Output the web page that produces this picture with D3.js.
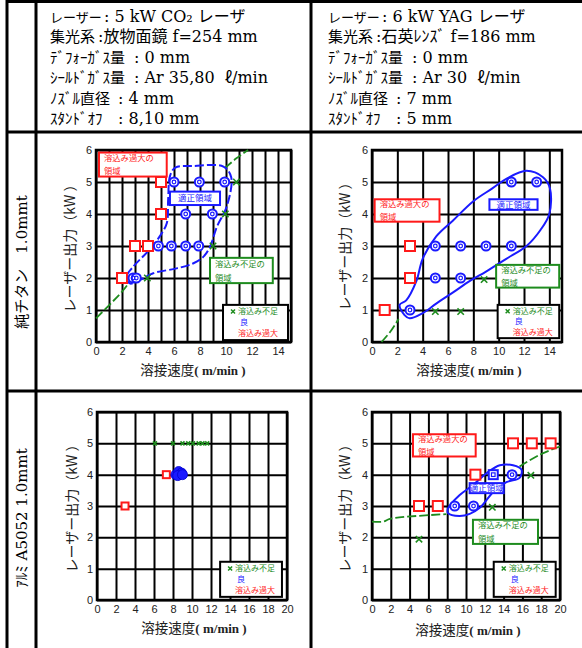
<!DOCTYPE html>
<html>
<head>
<meta charset="utf-8">
<script src="https://cdn.jsdelivr.net/npm/d3@7"></script>
<style>
  body { margin: 0; background: #fff; }
  text { font-family: "DejaVu Serif", "Noto Sans CJK JP", serif; white-space: pre; }
</style>
</head>
<body>
<div id="viz"></div>
<script>
const red = '#ff1a1a';
const blue = '#1a1aff';
const green = '#1e8c1e';

// header table text
const headerLabels = ['レーザー', '集光系', 'ﾃﾞﾌｫｰｶﾞｽ量', 'ｼｰﾙﾄﾞｶﾞｽ量', 'ﾉｽﾞﾙ直径', 'ｽﾀﾝﾄﾞｵﾌ'];
const co2Values = [': 5 kW CO₂ レーザ', ':放物面鏡 f=254 mm', ': 0 mm', ': Ar 35,80  ℓ/min', ': 4 mm', ': 8,10 mm'];
const yagValues = [': 6 kW YAG レーザ', ':石英ﾚﾝｽﾞ f=186 mm', ': 0 mm', ': Ar 30  ℓ/min', ': 7 mm', ': 5 mm'];
const rowLabels = ['純チタン　1.0mmt', 'ｱﾙﾐ A5052 1.0mmt'];

// axes
const yTicks = [0, 1, 2, 3, 4, 5, 6];
const xTicks15 = [0, 2, 4, 6, 8, 10, 12, 14];
const xGrid15 = [0, 1, 2, 3, 4, 5, 6, 7, 8, 9, 10, 11, 12, 13, 14, 15];
const xTicks20 = [0, 2, 4, 6, 8, 10, 12, 14, 16, 18, 20];
const legendLabels = ['溶込み不足', '良', '溶込み過大'];

// pure titanium, CO2 laser  [speed m/min, power kW]
const tiCo2Over = [[2, 2], [3, 3], [4, 3], [5, 4], [5, 5]];
const tiCo2Good = [[2.85, 2], [3.1, 2], [4.8, 3], [5.8, 3], [6.9, 3], [7.9, 3], [6.9, 4], [8.95, 4], [6, 5], [7.95, 5], [9.9, 5]];
const tiCo2Under = [[3.95, 2], [9, 3], [9.95, 4], [10.8, 5]];
const tiCo2Boundary = [[[0, 0.74], [2, 1.57], [2.5, 1.83]], [[9.9, 5.43], [10.8, 5.74], [11.7, 6]]];
const tiCo2Region = [[2.35, 2.05], [2.9, 2.37], [4.15, 2.9], [4.9, 3.3], [5.45, 3.72], [5.55, 4.45], [5.7, 5.2], [6.1, 5.45],
  [7.5, 5.5], [9.8, 5.48], [10.4, 5.15], [10.05, 4.23], [9.3, 3.6], [8.77, 2.98], [8.25, 2.66], [7.5, 2.46],
  [6.2, 2.3], [4.4, 2.15], [3.4, 1.94], [2.6, 1.83]];

// pure titanium, YAG laser
const tiYagOver = [[1, 1], [3, 2], [3, 3]];
const tiYagGood = [[3, 1], [5, 2], [7, 2], [5, 3], [7, 3], [9, 3], [11, 3], [11, 5], [13, 5]];
const tiYagUnder = [[5, 0.95], [7, 0.95], [8.85, 1.95]];
const tiYagBoundary = [[[0.75, 0], [1.5, 0.35], [2.1, 0.72]]];
const tiYagRegion = [[2.18, 1.16], [2.57, 0.84], [2.97, 0.74], [4.0, 0.9], [5.07, 1.2], [6.4, 1.55], [7.7, 1.9], [9.0, 2.2],
  [10.6, 2.6], [12.2, 3.0], [13.3, 3.5], [14.0, 4.0], [14.05, 4.8], [13.5, 5.15], [12.2, 5.35], [10.6, 5.1],
  [9.5, 4.8], [8.0, 4.4], [6.4, 3.8], [5.07, 3.3], [4.0, 2.6], [3.5, 1.9], [2.7, 1.3]];

// aluminium A5052, CO2 laser
const alCo2Over = [[2.95, 3], [7.3, 4]];
const alCo2Good = [[8.3, 4.0], [8.6, 4.1], [8.9, 4.05], [8.5, 3.97], [9.0, 4.0]];
const alCo2Under = [[6.1, 5], [8, 5], [9, 5], [9.6, 5], [10.1, 5], [10.7, 5], [11.1, 5], [11.6, 5]];

// aluminium A5052, YAG laser
const alYagOver = [[5, 3], [7, 3], [11, 4], [15, 5], [17, 5], [19, 5]];
const alYagGood = [[8.8, 3], [10.8, 3], [14.9, 4]];
const alYagGoodSquare = [[12.9, 4]];
const alYagUnder = [[5, 1.94], [12.8, 2.96], [16.9, 3.98]];
const alYagBoundary = [[[0, 2.5], [1.2, 2.5], [1.9, 2.59], [7.9, 2.74]], [[15.7, 4.26], [17.8, 4.63], [20, 4.9]]];
const alYagRegion = [[8.1, 2.93], [9.33, 3.35], [10.75, 3.67], [12.2, 4.05], [13.6, 4.3], [15.0, 4.3], [15.9, 4.16],
  [15.7, 3.9], [14.3, 3.76], [12.9, 3.45], [11.5, 2.95], [10.4, 2.75], [9.3, 2.68], [8.1, 2.77]];

const svg = d3.select('#viz').append('svg')
  .attr('width', 582)
  .attr('height', 648);

// table lines
const tableLines = [[7, 0, 7, 648], [36, 0, 36, 648], [311, 0, 311, 648], [7, 1.5, 582, 1.5], [7, 132, 582, 132], [7, 391, 582, 391]];
svg.selectAll('line.tbl').data(tableLines).join('line')
  .attr('class', 'tbl')
  .attr('x1', d => d[0]).attr('y1', d => d[1]).attr('x2', d => d[2]).attr('y2', d => d[3])
  .attr('stroke', '#000').attr('stroke-width', 3);

const valueOffsets = [54, 48, 84, 84, 68, 68];
[[50, co2Values], [328, yagValues]].forEach(([x0, vals]) => {
  headerLabels.forEach((lab, i) => {
    const yb = 22 + i * 20.4;
    svg.append('text').attr('x', x0).attr('y', yb)
      .style('font-family', '"Noto Sans CJK JP", sans-serif').style('font-size', i === 0 ? '13px' : '15px')
      .text(lab);
    svg.append('text').attr('x', x0 + valueOffsets[i]).attr('y', yb)
      .style('font-size', '16px')
      .text(vals[i]);
  });
});

[[22, 262], [22, 518]].forEach(([cx, cy], i) => {
  svg.append('text')
    .attr('transform', `translate(${cx},${cy}) rotate(-90)`)
    .attr('text-anchor', 'middle').attr('dy', '0.35em')
    .style('font-size', '15px')
    .text(rowLabels[i]);
});

const charts = [
  {
    left: 96, right: 291, top: 150, bottom: 342, xMax: 15, grid: xGrid15, labels: xTicks15,
    over: tiCo2Over, good: tiCo2Good, goodSq: [], under: tiCo2Under, boundary: tiCo2Boundary, region: tiCo2Region,
    regionDash: '9,3', sq: 10, cross: 3.2, goodStyle: 'ring',
    notes: [
      { box: [0.23, 5.92, 5.44, 5.17], lines: ['溶込み過大の', '領域'], color: red },
      { box: [5.69, 4.70, 9.54, 4.28], lines: ['適正領域'], color: blue },
      { box: [8.77, 2.63, 13.6, 1.84], lines: ['溶込み不足の', '領域'], color: green }
    ],
    legend: [9.77, 1.16, 14.77, 0.06], yTitle: [70, 245], xTitle: [193, 375]
  },
  {
    left: 372, right: 562, top: 150, bottom: 342, xMax: 15, grid: xTicks15, labels: xTicks15,
    over: tiYagOver, good: tiYagGood, goodSq: [], under: tiYagUnder, boundary: tiYagBoundary, region: tiYagRegion,
    regionDash: null, sq: 10, cross: 3.2, goodStyle: 'ring',
    notes: [
      { box: [0.21, 4.46, 5.33, 3.76], lines: ['溶込み過大の', '領域'], color: red },
      { box: [9.27, 4.46, 13.07, 4.13], lines: ['適正領域'], color: blue },
      { box: [9.8, 2.41, 14.78, 1.70], lines: ['溶込み不足の', '領域'], color: green }
    ],
    legend: [9.92, 1.16, 14.78, 0.12], yTitle: [345, 243], xTitle: [469, 375]
  },
  {
    left: 97, right: 287, top: 412, bottom: 600, xMax: 20, grid: xTicks20, labels: xTicks20,
    over: alCo2Over, good: alCo2Good, goodSq: [], under: alCo2Under, boundary: [], region: null,
    regionDash: null, sq: 7, cross: 2, goodStyle: 'filled',
    notes: [],
    legend: [12.96, 1.22, 19.47, 0.1], yTitle: [72, 505], xTitle: [194, 633]
  },
  {
    left: 372, right: 560, top: 412, bottom: 600, xMax: 20, grid: xTicks20, labels: xTicks20,
    over: alYagOver, good: alYagGood, goodSq: alYagGoodSquare, under: alYagUnder, boundary: alYagBoundary, region: alYagRegion,
    regionDash: null, sq: 10, cross: 3.2, goodStyle: 'ring',
    notes: [
      { box: [4.36, 5.29, 11.03, 4.58], lines: ['溶込み過大の', '領域'], color: red },
      { box: [10.39, 3.73, 14.01, 3.41], lines: ['適正領域'], color: blue },
      { box: [10.74, 2.56, 17.66, 1.79], lines: ['溶込み不足の', '領域'], color: green }
    ],
    legend: [12.95, 1.22, 19.54, 0.1], yTitle: [345, 505], xTitle: [468, 635]
  }
];

charts.forEach(drawChart);

function drawChart(c) {
  const x = d3.scaleLinear().domain([0, c.xMax]).range([c.left, c.right]);
  const y = d3.scaleLinear().domain([0, 6]).range([c.bottom, c.top]);
  const g = svg.append('g');
  const h = c.bottom - c.top;
  const w = c.right - c.left;

  const xAxis = g.append('g')
    .attr('transform', `translate(0,${c.bottom})`)
    .call(d3.axisBottom(x).tickValues(c.grid).tickSize(-h).tickPadding(5)
      .tickFormat(d => c.labels.includes(d) ? d : ''));
  const yAxis = g.append('g')
    .attr('transform', `translate(${c.left},0)`)
    .call(d3.axisLeft(y).tickValues(yTicks).tickSize(-w).tickPadding(4).tickFormat(d3.format('d')));
  [xAxis, yAxis].forEach(a => {
    a.select('.domain').remove();
    a.selectAll('line').attr('stroke', '#000').attr('stroke-width', 2);
    a.selectAll('text').style('font-family', '"Liberation Sans", Arial, sans-serif')
      .style('font-size', '11px').attr('fill', '#222');
  });

  g.append('rect')
    .attr('x', c.left).attr('y', c.top).attr('width', w).attr('height', h)
    .attr('fill', 'none').attr('stroke', '#000').attr('stroke-width', 2.5);

  // axis titles
  g.append('text')
    .attr('transform', `translate(${c.yTitle[0]},${c.yTitle[1]}) rotate(-90)`)
    .attr('text-anchor', 'middle').attr('dy', '0.35em')
    .style('font-family', '"Noto Sans CJK JP", sans-serif').style('font-size', '14px')
    .attr('fill', '#222')
    .text('レーザー出力（kW ）');
  const xt = g.append('text')
    .attr('x', c.xTitle[0]).attr('y', c.xTitle[1])
    .attr('text-anchor', 'middle').attr('fill', '#222');
  xt.append('tspan').style('font-family', '"Noto Sans CJK JP", sans-serif').style('font-size', '13.5px').text('溶接速度');
  xt.append('tspan').style('font-family', '"Liberation Serif", serif').style('font-size', '13px').style('font-weight', 'bold').text('( m/min )');

  // boundary line
  const line = d3.line().x(d => x(d[0])).y(d => y(d[1])).curve(d3.curveCatmullRom);
  g.selectAll(null).data(c.boundary).join('path')
    .attr('d', line)
    .attr('fill', 'none').attr('stroke', green).attr('stroke-width', 1.8)
    .attr('stroke-dasharray', '9,3');

  // proper region outline
  if (c.region) {
    const closed = d3.line().x(d => x(d[0])).y(d => y(d[1])).curve(d3.curveCatmullRomClosed);
    g.append('path')
      .attr('d', closed(c.region))
      .attr('fill', 'none').attr('stroke', blue).attr('stroke-width', 2)
      .attr('stroke-dasharray', c.regionDash);
  }

  // over penetration squares
  g.selectAll(null).data(c.over).join('rect')
    .attr('x', d => x(d[0]) - c.sq / 2).attr('y', d => y(d[1]) - c.sq / 2)
    .attr('width', c.sq).attr('height', c.sq)
    .attr('fill', '#fff').attr('stroke', red).attr('stroke-width', 2);

  // good
  if (c.goodStyle === 'filled') {
    g.selectAll(null).data(c.good).join('circle')
      .attr('cx', d => x(d[0])).attr('cy', d => y(d[1])).attr('r', 5)
      .attr('fill', blue).attr('stroke', '#0000cc').attr('stroke-width', 0.8);
  } else {
    g.selectAll(null).data(c.good).join('circle')
      .attr('cx', d => x(d[0])).attr('cy', d => y(d[1])).attr('r', 4.5)
      .attr('fill', '#fff').attr('stroke', blue).attr('stroke-width', 2);
    g.selectAll(null).data(c.good).join('circle')
      .attr('cx', d => x(d[0])).attr('cy', d => y(d[1])).attr('r', 1.8)
      .attr('fill', 'none').attr('stroke', blue).attr('stroke-width', 1.2);
  }
  g.selectAll(null).data(c.goodSq).join('rect')
    .attr('x', d => x(d[0]) - 4.5).attr('y', d => y(d[1]) - 4.5)
    .attr('width', 9).attr('height', 9)
    .attr('fill', '#fff').attr('stroke', blue).attr('stroke-width', 2);
  g.selectAll(null).data(c.goodSq).join('rect')
    .attr('x', d => x(d[0]) - 1.8).attr('y', d => y(d[1]) - 1.8)
    .attr('width', 3.6).attr('height', 3.6)
    .attr('fill', 'none').attr('stroke', blue).attr('stroke-width', 1.2);

  // under penetration crosses
  const s = c.cross;
  g.selectAll(null).data(c.under).join('path')
    .attr('d', d => {
      const px = x(d[0]), py = y(d[1]);
      return `M${px - s},${py - s}L${px + s},${py + s}M${px - s},${py + s}L${px + s},${py - s}`;
    })
    .attr('stroke', green).attr('stroke-width', 1.6).attr('fill', 'none');

  // region notes
  c.notes.forEach(n => {
    const bx = x(n.box[0]), by = y(n.box[1]), bw = x(n.box[2]) - bx, bh = y(n.box[3]) - by;
    g.append('rect').attr('x', bx).attr('y', by).attr('width', bw).attr('height', bh)
      .attr('fill', '#fff').attr('stroke', n.color).attr('stroke-width', 2);
    const single = n.lines.length === 1;
    const t = g.append('text')
      .attr('text-anchor', single ? 'middle' : 'start')
      .style('font-family', '"Noto Sans CJK JP", sans-serif').style('font-size', single ? '8.5px' : '8.3px')
      .attr('fill', n.color);
    n.lines.forEach((line, i) => {
      const cy = single ? by + bh / 2 : by + bh * (i === 0 ? 0.23 : 0.79);
      t.append('tspan')
        .attr('x', single ? bx + bw / 2 : bx + 5).attr('y', cy).attr('dy', '0.35em')
        .text(line);
    });
  });

  // legend
  const lx = x(c.legend[0]), ly = y(c.legend[1]), lw = x(c.legend[2]) - lx, lh = y(c.legend[3]) - ly;
  g.append('rect').attr('x', lx).attr('y', ly).attr('width', lw).attr('height', lh)
    .attr('fill', '#fff').attr('stroke', '#000').attr('stroke-width', 2);
  const legColors = [green, blue, red];
  const legX = [15, 17, 15];
  const legY = [0.19, 0.5, 0.81];
  const lt = g.append('text')
    .style('font-family', '"Noto Sans CJK JP", sans-serif').style('font-size', '8px');
  legendLabels.forEach((t, i) => {
    lt.append('tspan')
      .attr('x', lx + legX[i]).attr('y', ly + lh * legY[i]).attr('dy', '0.35em')
      .attr('fill', legColors[i])
      .text(t);
  });
  const mx = lx + 10, my = ly + lh * legY[0];
  g.append('path')
    .attr('d', `M${mx - 2},${my - 2}L${mx + 2},${my + 2}M${mx - 2},${my + 2}L${mx + 2},${my - 2}`)
    .attr('stroke', green).attr('stroke-width', 1.5);
}
</script>
</body>
</html>
